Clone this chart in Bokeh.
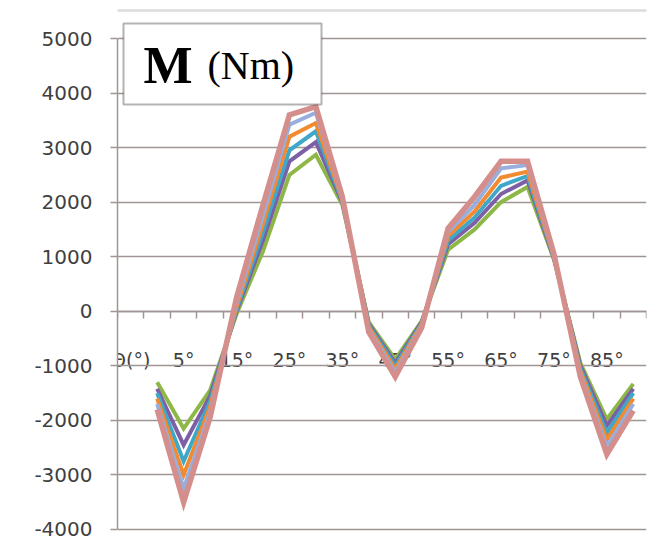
from bokeh.plotting import figure
from bokeh.models import Range1d, FixedTicker, BoxAnnotation, Label, LinearAxis
from bokeh.embed import file_html
from bokeh.resources import INLINE

# ---- data -------------------------------------------------------------
cat_labels = ["Θ(°)", "0°", "5°", "10°", "15°", "20°", "25°", "30°", "35°", "40°",
              "45°", "50°", "55°", "60°", "65°", "70°", "75°", "80°", "85°", "90°"]
angles = [0, 5, 10, 15, 20, 25, 30, 35, 40, 45, 50, 55, 60, 65, 70, 75, 80, 85, 90]

s_green  = [-1300, -2150, -1450,  -50, 1100, 2500, 2870, 1950, -200,  -880, -180, 1130, 1500, 2000, 2280,  950,  -950, -1980, -1330]
s_purple = [-1420, -2450, -1550,    0, 1300, 2750, 3100, 2000, -230,  -950, -200, 1230, 1620, 2150, 2400,  970, -1000, -2100, -1420]
s_teal   = [-1500, -2750, -1650,   30, 1450, 2950, 3300, 2020, -260, -1000, -220, 1300, 1720, 2300, 2480,  990, -1050, -2230, -1500]
s_orange = [-1600, -3000, -1750,   80, 1600, 3200, 3450, 2050, -290, -1060, -240, 1380, 1830, 2450, 2560, 1010, -1100, -2350, -1600]
s_lblue  = [-1700, -3250, -1850,  150, 1750, 3420, 3640, 2080, -330, -1120, -260, 1450, 1950, 2620, 2680, 1030, -1150, -2480, -1700]
s_rose   = [-1800, -3500, -1950,  250, 1950, 3600, 3750, 2100, -380, -1200, -300, 1520, 2100, 2750, 2750, 1050, -1200, -2620, -1820]

y_ticks = [-4000, -3000, -2000, -1000, 0, 1000, 2000, 3000, 4000, 5000]

series = [
    (s_green,  "#8db847", 4.0),
    (s_purple, "#7d5fa6", 4.0),
    (s_teal,   "#3fa7c8", 4.0),
    (s_orange, "#f28a30", 4.0),
    (s_lblue,  "#98aedc", 4.0),
    (s_rose,   "#d48e8c", 5.5),
]

# ---- figure -------------------------------------------------------------
W, H = 667, 553
ML, MR = 117, 21
Y_MIN, Y_MAX = -4440, 5697

p = figure(width=W, height=H, output_backend="svg", toolbar_location=None,
           x_range=Range1d(0.5, len(cat_labels) + 0.5),
           y_range=Range1d(Y_MIN, Y_MAX),
           min_border_left=ML, min_border_right=MR,
           min_border_top=0, min_border_bottom=0,
           x_axis_type=None)
p.outline_line_color = None
p.background_fill_color = "white"
p.border_fill_color = "white"
p.xgrid.visible = False

grid_col = "#a09494"
ax = p.yaxis[0]
ax.ticker = FixedTicker(ticks=y_ticks)
ax.bounds = (y_ticks[0], y_ticks[-1])
ax.major_label_overrides = {t: str(t) for t in y_ticks}
ax.axis_line_color = grid_col
ax.axis_line_width = 1.5
ax.major_tick_line_color = grid_col
ax.major_tick_line_width = 1.5
ax.major_tick_out = 7
ax.major_tick_in = 0
ax.minor_tick_line_color = None
ax.major_label_standoff = 18
ax.major_label_text_font = "DejaVu Sans"
ax.major_label_text_font_size = "20px"
ax.major_label_text_color = "#404040"

p.ygrid.ticker = FixedTicker(ticks=y_ticks)
p.ygrid.grid_line_color = grid_col
p.ygrid.grid_line_width = 1.5

# category axis crossing at value 0
lab_pos = [i + 1 for i in range(0, len(cat_labels), 2)]
bounds = [k + 0.5 for k in range(len(cat_labels) + 1)]
xax = LinearAxis(ticker=FixedTicker(ticks=lab_pos, minor_ticks=bounds),
                 fixed_location=0, level="underlay")
xax.major_label_overrides = {x: cat_labels[x - 1] for x in lab_pos}
xax.axis_line_color = grid_col
xax.axis_line_width = 1.5
xax.major_tick_line_color = None
xax.major_tick_out = 0
xax.major_tick_in = 0
xax.minor_tick_line_color = grid_col
xax.minor_tick_line_width = 1.5
xax.minor_tick_out = 7
xax.minor_tick_in = 0
xax.major_label_standoff = 31
xax.major_label_text_font = "DejaVu Sans"
xax.major_label_text_font_size = "19px"
xax.major_label_text_color = "#404040"
p.add_layout(xax, "below")

# data lines
xs = [cat_labels.index(f"{a}°") + 1 for a in angles]
for vals, col, lw in series:
    p.line(x=xs, y=vals, line_color=col, line_width=lw, line_join="miter")

# outer chart border
p.add_layout(BoxAnnotation(left=6, right=3000, top=10, bottom=3000,
                           left_units="canvas", right_units="canvas",
                           top_units="canvas", bottom_units="canvas",
                           fill_color=None, line_color="#8a8a8a", line_width=2.5))

# title box
p.add_layout(BoxAnnotation(left=123, right=321, top=23, bottom=104,
                           left_units="canvas", right_units="canvas",
                           top_units="canvas", bottom_units="canvas",
                           fill_color="white", fill_alpha=1.0,
                           line_color="black", line_width=2))
p.add_layout(Label(x=143, y=65, x_units="canvas", y_units="canvas", text="M",
                   text_font="Liberation Serif", text_font_style="bold",
                   text_font_size="52px", text_color="black", text_baseline="alphabetic"))
p.add_layout(Label(x=207, y=65, x_units="canvas", y_units="canvas", text="(Nm)",
                   text_font="Liberation Serif", text_font_size="40px",
                   text_color="black", text_baseline="alphabetic"))

open("out.html", "w").write(file_html(p, INLINE))
